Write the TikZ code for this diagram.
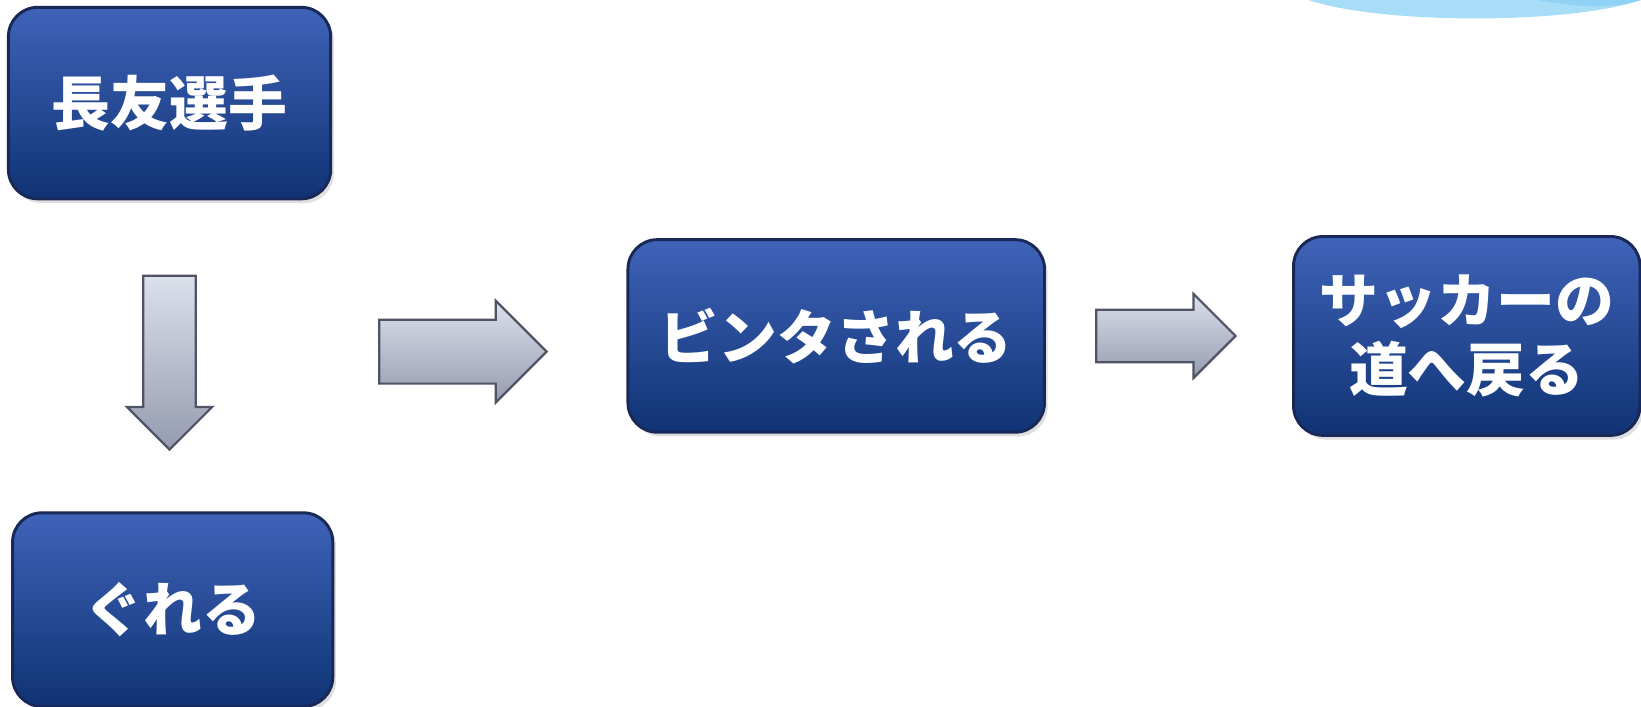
\documentclass[tikz,border=0pt]{standalone}
\usepackage{fontspec}
\setmainfont{Noto Sans CJK JP}
\usepackage{tikz}
\usetikzlibrary{shapes.arrows,shadows}

\definecolor{boxtop}{HTML}{3F63B8}
\definecolor{boxbot}{HTML}{0F3374}
\definecolor{boxline}{HTML}{1A2858}
\definecolor{arrtop}{HTML}{DCE0EB}
\definecolor{arrbot}{HTML}{959BB0}
\definecolor{arrline}{HTML}{4F5464}
\definecolor{swoosh}{HTML}{A8DDF8}
\definecolor{swooshdk}{HTML}{8FD2F6}

\begin{document}
\begin{tikzpicture}
            [thick,
             box/.style={rectangle,rounded corners=8pt,draw=boxline,top color=boxtop,bottom color=boxbot,
                         text=white,font=\fontsize{16}{18.5}\selectfont\bfseries,align=center,
                         drop shadow={opacity=.25,shadow xshift=.03,shadow yshift=-.04}},
             blockarrow/.style={single arrow,draw=arrline,semithick,top color=arrtop,bottom color=arrbot,
                         single arrow head extend=#1,inner sep=0pt}]
            \useasboundingbox (0,0) rectangle (15.68,6.755);

            % swoosh in the corner
            \fill[swoosh] (12.5,6.755) .. controls (13.2,6.52) and (15.0,6.52) .. (15.68,6.755) -- cycle;
            \fill[swooshdk] (14.7,6.755) .. controls (15.1,6.68) and (15.4,6.67) .. (15.68,6.755) -- cycle;

            \node[box,minimum width=3.08cm,minimum height=1.83cm] (player) at (1.62,5.77) {長友選手};
            \node[box,minimum width=3.06cm,minimum height=1.85cm] (grow) at (1.65,0.93) {ぐれる};
            \node[box,minimum width=3.98cm,minimum height=1.84cm] (slap) at (7.99,3.545) {ビンタされる};
            \node[box,minimum width=3.31cm,minimum height=1.90cm] (back) at (14.015,3.545) {サッカーの\\道へ戻る};

            \node[blockarrow=.155cm,shape border rotate=270,minimum height=1.66cm,minimum width=.79cm,
                  inner xsep=.24cm,inner ysep=.24cm] (down) at (1.62,3.415) {};
            \node[blockarrow=.18cm,minimum height=1.60cm,minimum width=.95cm,
                  inner xsep=.295cm,inner ysep=.295cm] (toslap) at (4.27,3.395) {};
            \node[blockarrow=.15cm,minimum height=1.33cm,minimum width=.78cm,
                  inner xsep=.24cm,inner ysep=.24cm] (toback) at (11.015,3.545) {};
        \end{tikzpicture}
\end{document}
